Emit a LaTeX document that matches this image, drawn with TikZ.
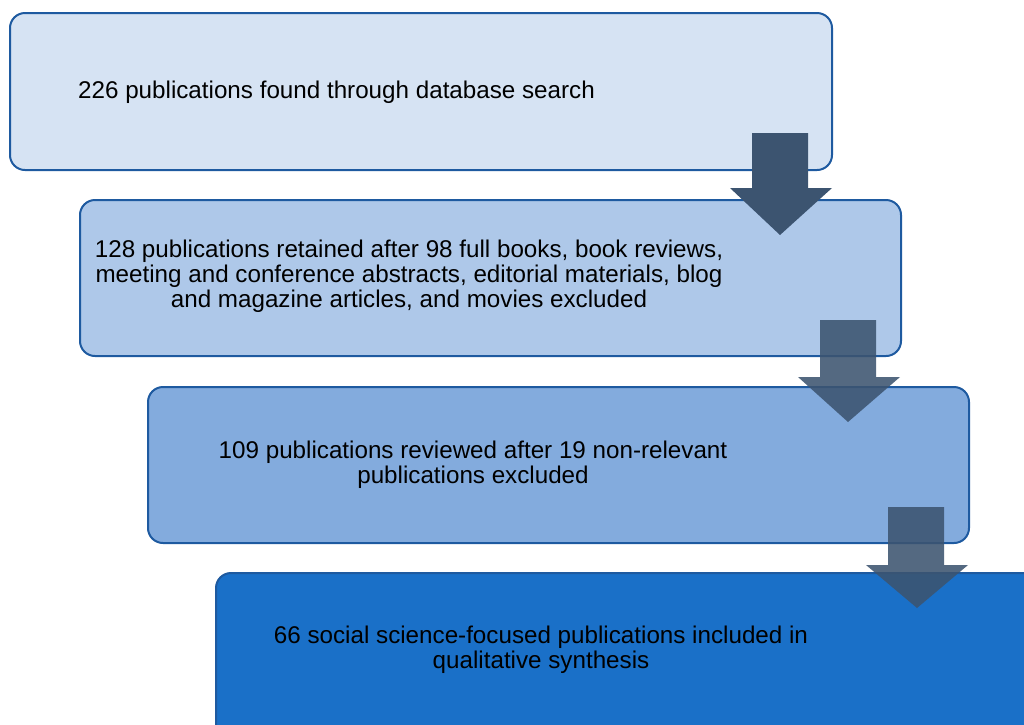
\documentclass[tikz,border=0pt]{standalone}
\usepackage{fontspec}
\setmainfont{Liberation Sans}
\begin{document}
\begin{tikzpicture}[x=1pt,y=-1pt,
  stagebox/.style={draw=boxline,line width=2pt,rounded corners=15pt},
  downarrow/.style={fill=arrowfill},
  lbl/.style={font=\fontsize{24.2}{25}\selectfont,align=center,text=black,inner sep=0pt}]
\definecolor{boxline}{HTML}{1E5AA0}
\definecolor{fillA}{HTML}{D6E3F3}
\definecolor{fillB}{HTML}{AEC8E9}
\definecolor{fillC}{HTML}{83ABDD}
\definecolor{fillD}{HTML}{1A70C8}
\definecolor{arrowfill}{HTML}{3C5470}
\useasboundingbox (0,0) rectangle (1024,724);
\begin{scope}
\clip (0,0) rectangle (1024,724);
\path[stagebox,fill=fillA] (10,13) rectangle (832,170);
\node[lbl,anchor=west] (t1) at (78,92) {226 publications found through database search};
\path[stagebox,fill=fillB] (80,200) rectangle (901,356);
\path[downarrow] (752,133) -- (808,133) -- (808,188) -- (832,188) -- (780,235) -- (730,188) -- (752,188) -- cycle;
\node[lbl] (t2) at (409,276) {128 publications retained after 98 full books, book reviews,\\meeting and conference abstracts, editorial materials, blog\\and magazine articles, and movies excluded};
\path[stagebox,fill=fillC] (148,387) rectangle (969,543);
\path[downarrow,opacity=0.88] (820,320) -- (876,320) -- (876,377) -- (900,377) -- (848,422) -- (798,377) -- (820,377) -- cycle;
\node[lbl] (t3) at (473,465) {109 publications reviewed after 19 non-relevant\\publications excluded};
\path[stagebox,fill=fillD] (216,573) rectangle (1040,740);
\path[downarrow,opacity=0.88] (888,507) -- (944,507) -- (944,565) -- (968,565) -- (917,608) -- (866,565) -- (888,565) -- cycle;
\node[lbl] (t4) at (541,650) {66 social science-focused publications included in\\qualitative synthesis};
\end{scope}
\end{tikzpicture}
\end{document}
